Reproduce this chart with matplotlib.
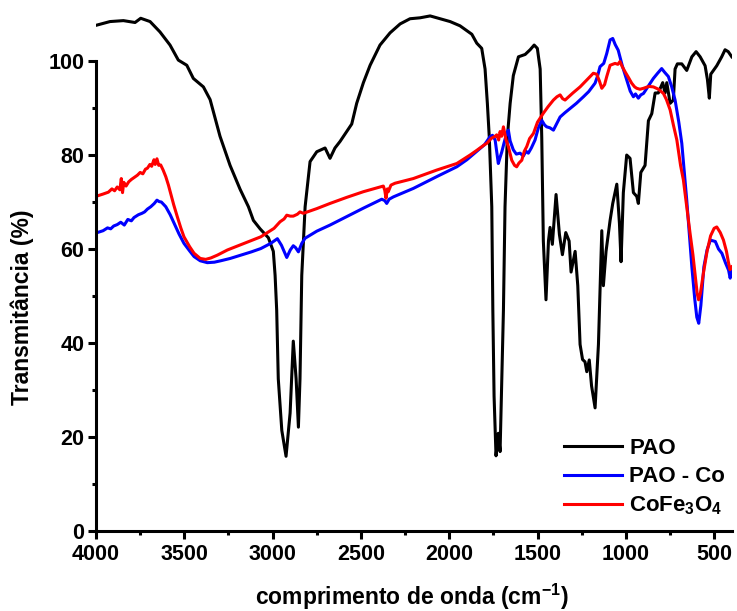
import matplotlib
matplotlib.use("Agg")
import matplotlib.pyplot as plt
from matplotlib.ticker import MultipleLocator, FixedLocator

plt.rcParams["font.family"] = ["Liberation Sans", "DejaVu Sans"]
plt.rcParams["font.weight"] = "bold"
plt.rcParams["axes.labelweight"] = "bold"
plt.rcParams["mathtext.default"] = "regular"

# FTIR spectra: wavenumber (cm-1) and transmittance (%)
pao_wn = [4000, 3921, 3845, 3779, 3747, 3694, 3638, 3581, 3534, 3486, 3449, 3392,
          3354, 3298, 3241, 3184, 3137, 3109, 3071, 3024, 2996, 2986, 2977, 2968,
          2948, 2924, 2901, 2883, 2867, 2854, 2845, 2835, 2816, 2788, 2750, 2703,
          2675, 2647, 2618, 2552, 2524, 2486, 2448, 2392, 2335, 2278, 2222, 2165,
          2108, 2052, 1995, 1939, 1872, 1844, 1816, 1797, 1784, 1773, 1759, 1753,
          1746, 1735, 1722, 1712, 1702, 1693, 1684, 1671, 1655, 1637, 1608, 1570,
          1542, 1519, 1501, 1485, 1476, 1467, 1452, 1438, 1429, 1416, 1395, 1376,
          1359, 1340, 1321, 1310, 1287, 1272, 1259, 1245, 1231, 1221, 1207, 1194,
          1174, 1155, 1136, 1127, 1112, 1089, 1074, 1051, 1036, 1027, 1014, 995,
          976, 957, 938, 929, 915, 891, 872, 853, 834, 816, 791, 778, 768, 749,
          731, 721, 708, 683, 655, 626, 602, 579, 551, 538, 527, 519, 485, 457,
          438, 420, 400]
pao_t = [107.6, 108.4, 108.6, 108.2, 109.1, 108.4, 106.2, 103.4, 100.2, 99.1, 96.3, 94.5,
         91.8, 84.0, 77.8, 72.7, 69.0, 66.1, 64.3, 62.4, 59.5, 54.4, 47.0, 32.4,
         21.4, 15.9, 25.1, 40.4, 32.4, 22.1, 32.4, 54.4, 69.0, 78.6, 80.7, 81.5,
         79.3, 81.5, 82.9, 86.6, 91.0, 95.4, 99.1, 103.4, 106.0, 107.9, 109.0, 109.2,
         109.6, 109.0, 108.4, 107.5, 105.7, 103.8, 102.7, 98.3, 91.0, 83.7, 69.0, 47.0,
         28.7, 16.0, 20.8, 16.9, 32.4, 47.0, 69.0, 83.7, 91.0, 96.9, 100.9, 101.4,
         102.4, 103.4, 102.7, 98.3, 83.7, 61.7, 49.2, 61.7, 64.6, 61.0, 71.6, 63.1,
         58.8, 63.5, 61.7, 55.1, 59.5, 52.2, 39.7, 36.5, 36.0, 33.9, 36.4, 30.9,
         26.2, 39.7, 63.9, 52.2, 59.5, 66.1, 69.7, 73.8, 65.4, 57.3, 72.0, 80.0,
         79.3, 72.0, 71.2, 69.7, 76.3, 77.8, 87.3, 88.8, 93.2, 93.2, 95.4, 93.2, 95.4, 91.0,
         91.7, 98.3, 99.4, 99.4, 98.0, 100.9, 102.0, 100.9, 99.0, 96.1, 92.1, 97.2, 99.0, 100.9,
         102.4, 102.0, 100.9]

paoco_wn = [4000, 3993, 3960, 3935, 3917, 3900, 3880, 3860, 3840, 3820, 3800, 3785,
            3760, 3740, 3725, 3709, 3690, 3670, 3655, 3643, 3630, 3605, 3580, 3558,
            3530, 3502, 3470, 3445, 3410, 3370, 3330, 3294, 3240, 3181, 3120, 3067,
            3011, 2973, 2950, 2920, 2900, 2883, 2870, 2854, 2835, 2816, 2750, 2675,
            2580, 2486, 2382, 2365, 2354, 2340, 2316, 2203, 2071, 1957, 1900, 1844,
            1800, 1769, 1755, 1740, 1730, 1722, 1712, 1702, 1690, 1675, 1665, 1655,
            1637, 1620, 1599, 1580, 1565, 1552, 1535, 1514, 1495, 1476, 1460, 1448,
            1430, 1410, 1390, 1372, 1345, 1316, 1280, 1240, 1210, 1174, 1160, 1146,
            1125, 1108, 1089, 1074, 1060, 1043, 1020, 995, 975, 957, 945, 929, 915,
            900, 870, 844, 820, 797, 780, 759, 740, 721, 700, 683, 670, 655, 640,
            626, 610, 598, 587, 575, 558, 540, 521, 493, 475, 456, 435, 418, 409, 400]
paoco_t = [63.4, 63.5, 63.9, 64.5, 64.3, 64.9, 65.2, 65.7, 65.1, 66.3, 66.0, 66.7,
           67.3, 67.6, 67.9, 68.5, 69.0, 69.7, 70.4, 70.1, 70.0, 69.0, 67.3, 65.5,
           63.2, 61.2, 59.6, 58.4, 57.5, 57.1, 57.2, 57.5, 58.0, 58.7, 59.4, 60.1,
           61.2, 62.2, 60.8, 58.2, 59.8, 60.7, 60.3, 59.4, 61.2, 62.3, 63.8, 65.1,
           66.9, 68.7, 70.6, 70.3, 69.7, 70.6, 71.1, 72.9, 75.4, 77.5, 79.0, 80.8,
           82.2, 83.9, 84.2, 83.2, 80.5, 78.2, 79.5, 80.7, 82.5, 84.6, 85.3, 83.0,
           81.1, 80.2, 80.4, 79.8, 80.8, 80.4, 81.5, 83.2, 85.8, 87.4, 86.4, 86.0,
           85.8, 85.3, 86.8, 88.1, 89.0, 89.9, 91.0, 92.4, 93.5, 95.3, 96.8, 98.8,
           99.5, 101.6, 104.5, 104.8, 103.5, 102.3, 99.0, 96.0, 93.6, 92.4, 93.0, 92.1, 92.8,
           93.1, 94.8, 96.3, 97.4, 98.4, 97.6, 96.7, 94.5, 91.7, 87.0, 82.5, 77.0, 70.4, 63.0,
           56.2, 49.5, 45.5, 44.2, 48.0, 56.2, 59.8, 61.9, 61.6, 60.0, 59.1, 57.0, 55.5, 53.8, 55.9]

cofe_wn = [4000, 3993, 3960, 3930, 3910, 3895, 3880, 3865, 3857, 3850, 3843, 3830,
           3815, 3800, 3785, 3766, 3750, 3735, 3720, 3709, 3695, 3685, 3672, 3665,
           3655, 3645, 3634, 3620, 3605, 3590, 3577, 3560, 3540, 3520, 3502, 3470,
           3445, 3410, 3379, 3350, 3313, 3256, 3162, 3067, 2992, 2958, 2935, 2920,
           2900, 2883, 2860, 2845, 2826, 2750, 2675, 2580, 2486, 2373, 2365, 2358,
           2350, 2345, 2330, 2307, 2203, 2071, 1957, 1882, 1844, 1800, 1787, 1760,
           1740, 1731, 1720, 1712, 1703, 1693, 1685, 1678, 1665, 1646, 1630, 1618,
           1605, 1589, 1575, 1561, 1545, 1523, 1500, 1467, 1440, 1410, 1390, 1372,
           1358, 1344, 1300, 1259, 1220, 1184, 1165, 1150, 1136, 1120, 1108, 1089,
           1075, 1061, 1045, 1033, 1020, 1004, 985, 967, 950, 938, 920, 900, 870,
           844, 815, 787, 770, 749, 730, 711, 690, 674, 655, 636, 620, 608, 596,
           588, 578, 560, 540, 520, 500, 485, 465, 447, 430, 418, 410, 400]
cofe_t = [71.2, 71.3, 71.7, 72.1, 72.8, 72.4, 73.2, 72.6, 75.0, 72.0, 74.2, 73.4,
          74.3, 74.8, 75.2, 75.7, 76.3, 76.0, 77.0, 77.2, 78.0, 77.6, 79.0, 78.0,
          79.2, 77.8, 77.9, 76.8, 75.4, 73.6, 71.8, 69.4, 66.9, 64.5, 62.6, 60.5,
          59.1, 58.0, 57.8, 58.1, 58.7, 59.8, 61.2, 62.6, 64.4, 65.8, 66.4, 67.2,
          67.0, 67.0, 67.4, 67.9, 67.6, 68.6, 69.7, 71.0, 72.2, 73.4, 72.5, 70.8,
          72.8, 72.2, 73.6, 74.0, 75.0, 76.8, 78.2, 80.0, 81.0, 82.2, 82.5, 83.6,
          84.0, 84.3, 83.2, 85.0, 84.0, 86.0, 84.5, 83.2, 81.8, 78.9, 77.8, 77.5,
          78.3, 78.9, 80.8, 81.8, 83.5, 84.6, 87.0, 88.9, 90.3, 91.7, 92.4, 92.8,
          92.0, 91.7, 93.2, 94.5, 96.0, 97.4, 97.2, 95.8, 94.2, 95.0, 96.7, 99.1,
          99.3, 99.5, 99.3, 99.9, 98.8, 97.7, 96.5, 95.3, 94.5, 94.2, 94.0, 94.2, 94.6,
          94.5, 94.0, 93.1, 91.8, 89.6, 86.3, 83.2, 77.8, 74.7, 69.0, 63.3, 58.8, 54.8, 50.6,
          49.2, 50.5, 55.0, 59.5, 62.8, 64.4, 64.7, 63.5, 61.9, 59.5, 57.0, 55.6, 56.2]

y_major = [0, 20, 40, 60, 80, 100]
y_minor = [10, 30, 50, 70, 90]

series = [
    ("PAO", pao_wn, pao_t, "#000000"),
    ("PAO - Co", paoco_wn, paoco_t, "#0000FF"),
    ("CoFe$_3$O$_4$", cofe_wn, cofe_t, "#FF0000"),
]

fig = plt.figure(figsize=(7.37, 6.11), dpi=100)
ax = fig.add_axes([0.1303, 0.1309, 0.8626, 0.8615])

for label, wn, t, color in series:
    ax.plot(wn, t, color=color, lw=2.2, label=label, solid_joinstyle="round")

ax.set_xlim(4000, 400)
ax.set_ylim(0, 112)

ax.xaxis.set_major_locator(MultipleLocator(500))
ax.xaxis.set_minor_locator(MultipleLocator(250))
ax.yaxis.set_major_locator(FixedLocator(y_major))
ax.yaxis.set_minor_locator(FixedLocator(y_minor))

for side in ("top", "right"):
    ax.spines[side].set_visible(False)
for side in ("left", "bottom"):
    ax.spines[side].set_linewidth(2.2)
ax.spines["left"].set_bounds(0, 100)

ax.tick_params(which="major", direction="out", length=5.5, width=2.2,
               labelsize=15.5, pad=3)
ax.tick_params(which="minor", direction="out", length=3, width=2.2)
ax.tick_params(axis="x", which="major", pad=3.5)
for lbl in ax.get_xticklabels() + ax.get_yticklabels():
    lbl.set_fontweight("bold")

ax.set_xlabel("comprimento de onda (cm$^{-1}$)", fontsize=16.5, va="baseline")
ax.xaxis.set_label_coords(0.497, -0.1406)
ax.set_ylabel("Transmitância (%)", fontsize=16.5, va="center")
ax.yaxis.set_label_coords(-0.1164, 0.4255)

leg = ax.legend(loc="upper left", bbox_to_anchor=(0.736, 0.1765), frameon=False,
                fontsize=16, handlelength=2.6, handletextpad=0.35,
                labelspacing=0.33, borderpad=0, borderaxespad=0)
for line in leg.get_lines():
    line.set_linewidth(2.2)

fig.savefig("out.png", dpi=100)
